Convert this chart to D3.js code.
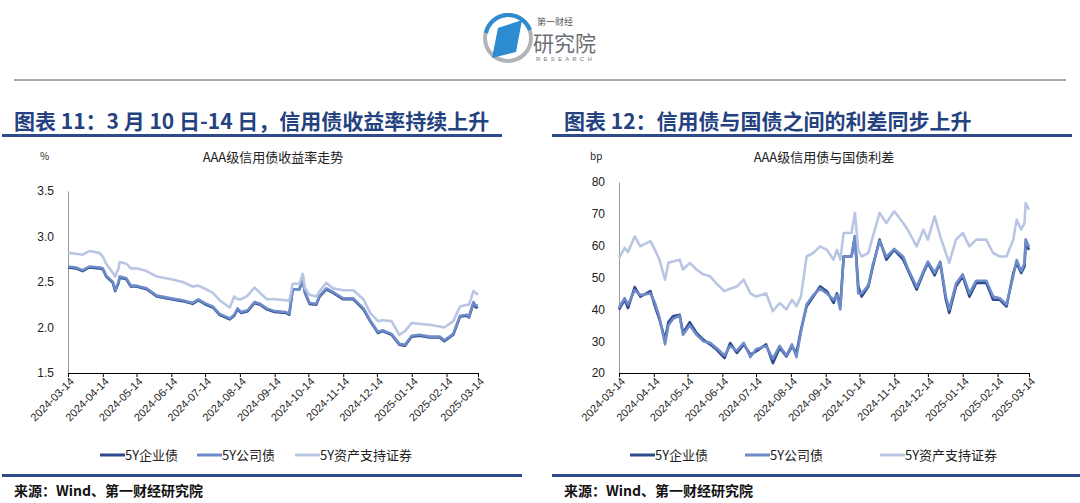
<!DOCTYPE html>
<html><head><meta charset="utf-8">
<script src="https://cdn.jsdelivr.net/npm/d3@7"></script>
<style>body{margin:0;background:#fff}svg{display:block}</style></head>
<body><svg id="c" width="1080" height="503"></svg>
<script>
const seriesNames=["5Y企业债","5Y公司债","5Y资产支持证券"];
const colors=["#2E4C8C","#6E8BC9","#B9C6E3"];
const tickLabels=["2024-03-14","2024-04-14","2024-05-14","2024-06-14","2024-07-14","2024-08-14","2024-09-14","2024-10-14","2024-11-14","2024-12-14","2025-01-14","2025-02-14","2025-03-14"];
// left chart: days since 2024-03-14
const leftDays=[0,7,13,19,28,31,34,40,42,45,46,52,56,61,70,79,92,102,111,116,123,129,135,144,148,151,154,160,166,171,177,184,194,197,200,206,209,211,215,221,224,230,236,245,254,263,269,276,280,288,295,300,306,313,322,331,335,343,349,355,357,361,363,365];
const leftEnt=[2.66,2.65,2.62,2.66,2.65,2.64,2.56,2.49,2.40,2.49,2.55,2.53,2.45,2.45,2.42,2.34,2.31,2.29,2.26,2.30,2.25,2.22,2.14,2.09,2.13,2.20,2.16,2.18,2.27,2.25,2.20,2.17,2.16,2.14,2.42,2.42,2.53,2.38,2.26,2.25,2.34,2.42,2.38,2.31,2.31,2.20,2.07,1.94,1.96,1.92,1.81,1.80,1.90,1.91,1.89,1.89,1.85,1.92,2.12,2.13,2.11,2.27,2.22,2.23];
const leftCorp=[2.67,2.66,2.63,2.67,2.66,2.65,2.57,2.50,2.41,2.50,2.56,2.54,2.46,2.46,2.43,2.35,2.32,2.30,2.27,2.31,2.26,2.23,2.15,2.10,2.14,2.21,2.17,2.19,2.28,2.26,2.21,2.18,2.17,2.15,2.42,2.42,2.54,2.39,2.27,2.26,2.35,2.43,2.39,2.32,2.32,2.21,2.08,1.95,1.97,1.93,1.82,1.81,1.91,1.92,1.90,1.90,1.86,1.93,2.13,2.14,2.12,2.28,2.24,2.24];
const leftAbs=[2.82,2.81,2.80,2.84,2.82,2.78,2.70,2.60,2.56,2.65,2.72,2.70,2.65,2.65,2.62,2.56,2.53,2.50,2.45,2.46,2.42,2.38,2.30,2.22,2.34,2.31,2.31,2.35,2.44,2.38,2.31,2.31,2.30,2.29,2.48,2.48,2.59,2.43,2.36,2.34,2.40,2.49,2.43,2.41,2.41,2.31,2.16,2.07,2.08,2.07,1.92,1.96,2.05,2.04,2.03,2.01,2.00,2.07,2.23,2.25,2.25,2.40,2.38,2.36];
const leftTicks=[1.5,2.0,2.5,3.0,3.5];
// right chart
const rightDays=[0,5,8,14,19,28,32,36,41,44,48,54,57,63,69,75,81,87,94,99,105,111,117,122,131,137,143,149,154,158,162,167,173,179,185,191,194,197,200,207,210,213,216,222,226,232,238,245,253,257,265,271,275,281,286,291,294,300,306,312,318,327,333,339,345,351,354,358,361,362,365];
const rightEnt=[39.9,43,40.4,47,44,45.7,41,36.8,30.5,36,37.8,38.3,32.6,36,32.6,30.5,29,27.3,24.7,29.4,26.3,29,25.8,26.8,29,23.1,27.9,25.2,28.4,26.3,33.6,40.9,44,47.2,45.7,42,45,41,56.6,56.6,62.9,47.2,44,47.2,53.5,61.9,55.6,58.7,55.6,52.5,46.2,51.4,54.6,50.7,54.6,43,38.9,47.2,50.4,44,48.3,48.3,43,43,40.9,51.4,54.6,51.4,53.5,60.8,58.7];
const rightCorp=[40.5,43.5,41.5,46,44.5,45,42,37.5,29,35,37,38,32,35,32,30,29.5,27.8,25.5,28.5,27,29.5,25,27.5,28.5,24.5,28.5,25.5,29,25,33,41.5,44.5,46.5,45,43,44.5,40,56.6,56.6,63,45,45,47.5,54,61.5,56.5,59,56.5,53,47,52,55,51.5,55,44,40,48,51,45,49,49,44,43.5,41.5,50.5,55.5,52,54.5,62,59.5];
const rightAbs=[56.1,59.3,58,62.9,59.8,61.4,58.7,55.6,49.3,54.6,55,55.6,52.5,54.6,52.5,51,50.4,48,45.7,46.5,47.2,49.3,45,44,45,39.4,42,40,43,41,44,56.6,57.7,59.8,58.7,55.6,58.7,55.6,64,64,70.3,58.7,56.6,57.7,62.9,70.3,67.1,70.8,67.1,65,59.8,65,61.9,69.2,62.9,57.7,54.6,61.9,64,59.8,61.9,61.9,57.7,56.6,56.6,61.9,68.2,65,67.1,73.4,71.3];
const rightTicks=[20,30,40,50,60,70,80];

const svg=d3.select("#c");
const F="'Noto Sans CJK SC','Liberation Sans',sans-serif";
const start=new Date(2024,2,14);
const toDate=d=>d3.timeDay.offset(start,d);
const tickDates=tickLabels.map(s=>{const [y,m,d]=s.split("-").map(Number);return new Date(y,m-1,d);});

// header logo
const lg=svg.append("g");
lg.append("circle").attr("cx",508).attr("cy",38).attr("r",23).attr("fill","none").attr("stroke","#B0B3B8").attr("stroke-width",4);
lg.append("path").attr("d","M486,33 A23,23 0 0 1 530,30").attr("fill","none").attr("stroke","#2D8BD0").attr("stroke-width",4);
lg.append("path").attr("d","M498,28 L522,20 L516,52 L492,58 Z").attr("fill","#2D8BD0");
lg.append("text").attr("x",537).attr("y",25).attr("font-size",9).attr("fill","#555").attr("font-family",F).text("第一财经");
lg.append("text").attr("x",533).attr("y",51).attr("font-size",21).attr("fill","#6b6f75").attr("font-family",F).text("研究院");
lg.append("text").attr("x",536).attr("y",61).attr("font-size",6).attr("fill","#777").attr("letter-spacing",3.2).attr("font-family","Liberation Sans").text("RESEARCH");
svg.append("line").attr("x1",14).attr("x2",1066).attr("y1",80).attr("y2",80).attr("stroke","#555").attr("stroke-width",1);

function panel(x0,title,sub,unit,days,series,ticks,dom,plot){
  const g=svg.append("g");
  g.append("text").attr("x",x0+12).attr("y",129).attr("font-size",21).attr("font-weight","bold").attr("fill","#24427F").attr("font-family",F).text(title);
  g.append("rect").attr("x",x0).attr("y",134).attr("width",plot.uw).attr("height",3).attr("fill","#2E4C8C");
  const x=d3.scaleTime().domain([start,tickDates[12]]).range([plot.l,plot.r]);
  const y=d3.scaleLinear().domain(dom).range([plot.b,plot.t]);
  g.append("text").attr("x",(plot.l+plot.r)/2).attr("y",162).attr("text-anchor","middle").attr("font-size",13).attr("fill","#222").attr("font-family",F).text(sub);
  g.append("text").attr("x",plot.ux).attr("y",160).attr("font-size",10).attr("fill","#222").attr("font-family",F).text(unit);
  const ya=g.append("g").attr("transform",`translate(${plot.l},0)`).call(d3.axisLeft(y).tickValues(ticks).tickSize(0).tickPadding(14).tickFormat(plot.fmt));
  ya.select(".domain").attr("stroke","#999");
  ya.selectAll("text").attr("font-size",12).attr("fill","#222").attr("font-family","Liberation Sans");
  series.forEach((s,i)=>{
    const pts=days.map((d,j)=>[toDate(d),s[j]]);
    g.append("path").datum(pts).attr("fill","none").attr("stroke",colors[i]).attr("stroke-width",2.6).attr("stroke-linejoin","round")
      .attr("d",d3.line().x(p=>x(p[0])).y(p=>y(p[1])));
  });
  const xa=g.append("g").attr("transform",`translate(0,${plot.b})`).call(d3.axisBottom(x).tickValues(tickDates).tickSize(4).tickFormat((d,i)=>tickLabels[i]));
  xa.select(".domain").attr("stroke","#000");
  xa.selectAll("line").attr("stroke","#000");
  xa.selectAll("text").attr("font-size",11).attr("fill","#222").attr("font-family","Liberation Sans").attr("text-anchor","end").attr("dx","-2").attr("dy","4").attr("transform","rotate(-45)");
  const lx=plot.leg;
  seriesNames.forEach((n,i)=>{
    g.append("line").attr("x1",lx[i]).attr("x2",lx[i]+25).attr("y1",455).attr("y2",455).attr("stroke",colors[i]).attr("stroke-width",3);
    g.append("text").attr("x",lx[i]+25).attr("y",460).attr("font-size",13).attr("fill","#222").attr("font-family",F).text(n);
  });
  g.append("rect").attr("x",x0).attr("y",474).attr("width",plot.uw+20).attr("height",3).attr("fill","#2E4C8C");
  g.append("text").attr("x",x0+12).attr("y",496).attr("font-size",14).attr("font-weight","bold").attr("fill","#111").attr("font-family",F).text("来源：Wind、第一财经研究院");
}
panel(2,"图表 11：3 月 10 日-14 日，信用债收益率持续上升","AAA级信用债收益率走势","%",leftDays,[leftEnt,leftCorp,leftAbs],leftTicks,[1.5,3.5],
  {l:68,r:478,t:191,b:373,uw:500,ux:40,fmt:d3.format(".1f"),leg:[100,197,295]});
panel(552,"图表 12：信用债与国债之间的利差同步上升","AAA级信用债与国债利差","bp",rightDays,[rightEnt,rightCorp,rightAbs],rightTicks,[20,80],
  {l:619,r:1029,t:182,b:373,uw:520,ux:590,fmt:d3.format("d"),leg:[630,745,880]});
</script></body></html>
